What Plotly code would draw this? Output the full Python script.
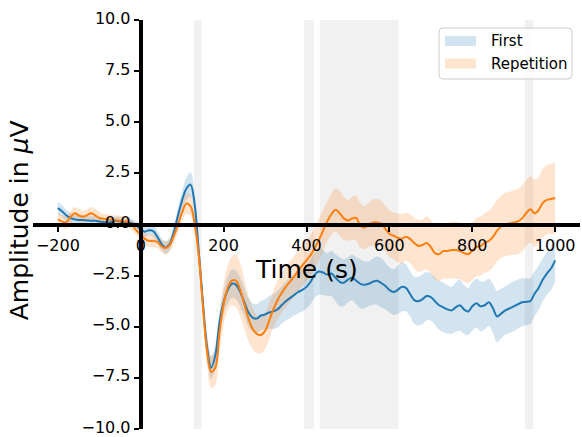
import plotly.graph_objects as go

# Time axis (ms) and grand-average ERP amplitudes (µV)
time_ms = list(range(-200, 1001, 10))

first_mean = [
    0.80, 0.65, 0.45, 0.32, 0.25, 0.22, 0.22, 0.20, 0.18, 0.18,
    0.15, 0.12, 0.10, 0.12, 0.18, 0.15, 0.08, 0.10, 0.05, -0.05,
    -0.25, -0.35, -0.28, -0.32, -0.60, -0.95, -1.12, -0.95, -0.35, 0.45,
    1.20, 1.75, 1.95, 1.00, -1.30, -3.80, -6.00, -7.00, -6.40, -4.80,
    -3.80, -3.20, -2.90, -2.95, -3.30, -3.80, -4.30, -4.55, -4.60, -4.45,
    -4.40, -4.30, -4.25, -4.15, -3.95, -3.75, -3.60, -3.45, -3.30, -3.20,
    -3.05, -2.80, -2.45, -2.30, -2.35, -2.45, -2.40, -2.60, -2.80, -2.85,
    -2.70, -2.60, -2.75, -2.90, -2.95, -2.90, -2.80, -2.75, -2.85, -3.00,
    -3.20, -3.30, -3.20, -3.05, -3.10, -3.40, -3.70, -3.75, -3.65, -3.50,
    -3.55, -3.75, -3.95, -4.05, -4.15, -4.20, -4.05, -3.95, -4.15, -4.25,
    -4.00, -3.85, -4.00, -3.95, -3.80, -4.10, -4.50, -4.35, -4.20, -4.10,
    -4.00, -3.90, -3.80, -3.78, -3.75, -3.40, -3.10, -2.70, -2.40, -2.15,
    -1.75,
]
first_sem = [
    0.30, 0.30, 0.28, 0.25, 0.22, 0.22, 0.22, 0.22, 0.22, 0.22,
    0.22, 0.20, 0.20, 0.20, 0.20, 0.20, 0.20, 0.20, 0.20, 0.20,
    0.22, 0.25, 0.25, 0.28, 0.30, 0.30, 0.30, 0.30, 0.30, 0.35,
    0.45, 0.55, 0.60, 0.55, 0.50, 0.50, 0.55, 0.55, 0.55, 0.55,
    0.60, 0.65, 0.70, 0.70, 0.70, 0.70, 0.70, 0.70, 0.70, 0.72,
    0.75, 0.80, 0.85, 0.90, 0.90, 0.95, 1.00, 1.00, 1.05, 1.05,
    1.05, 1.10, 1.12, 1.15, 1.10, 1.05, 1.10, 1.15, 1.20, 1.15,
    1.10, 1.12, 1.15, 1.20, 1.15, 1.10, 1.12, 1.18, 1.20, 1.15,
    1.10, 1.12, 1.18, 1.20, 1.15, 1.10, 1.15, 1.20, 1.22, 1.18,
    1.15, 1.15, 1.20, 1.22, 1.18, 1.15, 1.20, 1.25, 1.20, 1.15,
    1.18, 1.20, 1.22, 1.18, 1.15, 1.20, 1.25, 1.22, 1.18, 1.20,
    1.22, 1.20, 1.18, 1.15, 1.12, 1.10, 1.08, 1.05, 1.05, 1.05,
    1.08,
]

repetition_mean = [
    0.25, 0.15, 0.10, 0.35, 0.55, 0.45, 0.38, 0.45, 0.55, 0.45,
    0.32, 0.28, 0.25, 0.22, 0.20, 0.18, 0.15, 0.12, -0.05, -0.30,
    -0.50, -0.70, -0.80, -0.80, -0.85, -1.05, -1.15, -1.00, -0.55, 0.00,
    0.60, 1.02, 0.90, 0.05, -1.50, -4.00, -6.20, -7.20, -7.00, -5.30,
    -3.90, -3.10, -2.75, -2.75, -3.20, -3.90, -4.60, -5.10, -5.35, -5.40,
    -5.20, -4.70, -4.15, -3.70, -3.35, -3.05, -2.80, -2.55, -2.25, -2.00,
    -1.75, -1.50, -1.15, -0.75, -0.30, 0.15, 0.50, 0.72, 0.55, 0.30,
    0.20, 0.30, 0.32, -0.05, -0.15, 0.00, 0.10, 0.10, 0.05, -0.20,
    -0.45, -0.55, -0.65, -0.70, -0.60, -0.70, -0.90, -1.05, -1.00, -0.90,
    -1.10, -1.40, -1.45, -1.30, -1.30, -1.25, -1.25, -1.30, -1.40, -1.45,
    -1.30, -1.10, -1.05, -0.90, -0.80, -0.60, -0.30, -0.10, 0.00, 0.05,
    0.10, 0.15, 0.30, 0.55, 0.75, 0.55, 0.70, 1.05, 1.20, 1.25,
    1.30,
]
repetition_sem = [
    0.30, 0.30, 0.30, 0.30, 0.30, 0.30, 0.30, 0.30, 0.30, 0.30,
    0.30, 0.25, 0.25, 0.25, 0.25, 0.25, 0.25, 0.25, 0.25, 0.25,
    0.28, 0.30, 0.30, 0.30, 0.30, 0.30, 0.32, 0.32, 0.35, 0.40,
    0.45, 0.50, 0.50, 0.50, 0.55, 0.60, 0.70, 0.80, 0.85, 0.90,
    1.00, 1.10, 1.20, 1.30, 1.30, 1.20, 1.10, 1.00, 0.95, 0.90,
    0.90, 0.90, 0.90, 0.95, 0.95, 1.00, 1.00, 1.00, 1.00, 1.00,
    1.00, 1.00, 1.02, 1.05, 1.00, 0.98, 1.00, 1.05, 1.10, 1.05,
    1.00, 1.05, 1.10, 1.10, 1.05, 1.08, 1.12, 1.15, 1.10, 1.12,
    1.15, 1.15, 1.20, 1.22, 1.18, 1.20, 1.25, 1.28, 1.25, 1.30,
    1.32, 1.30, 1.32, 1.35, 1.35, 1.38, 1.40, 1.38, 1.40, 1.42,
    1.40, 1.42, 1.45, 1.45, 1.48, 1.50, 1.50, 1.52, 1.55, 1.55,
    1.58, 1.60, 1.62, 1.60, 1.62, 1.65, 1.62, 1.68, 1.70, 1.72,
    1.75,
]

# Time windows where the two conditions differ (ms)
sig_windows = [(128, 147), (394, 418), (432, 622), (927, 947)]

x_ticks = [-200, 0, 200, 400, 600, 800, 1000]
y_ticks = [-10.0, -7.5, -5.0, -2.5, 0.0, 2.5, 5.0, 7.5, 10.0]

condition_names = ["First", "Repetition"]


def fmt(v, dec):
    s = f"{v:.{dec}f}"
    return s.replace("-", "\u2212")


BLUE = "#1f77b4"
ORANGE = "#ff7f0e"
FONT = "DejaVu Sans"

W, H = 582, 437
MARGIN = dict(l=33, r=2, t=20, b=8)
PLOT_W = W - MARGIN["l"] - MARGIN["r"]
PLOT_H = H - MARGIN["t"] - MARGIN["b"]


def px_x(p):
    """Pixel column -> paper x."""
    return (p - MARGIN["l"]) / PLOT_W


def px_y(p):
    """Pixel row (from top) -> paper y."""
    return (H - MARGIN["b"] - p) / PLOT_H


fig = go.Figure()

conditions = [
    (condition_names[0], first_mean, first_sem, BLUE, "rgba(31,119,180,0.2)"),
    (condition_names[1], repetition_mean, repetition_sem, ORANGE, "rgba(255,127,14,0.2)"),
]

# Shaded SEM bands
for name, mean, sem, color, fill in conditions:
    upper = [m + s for m, s in zip(mean, sem)]
    lower = [m - s for m, s in zip(mean, sem)]
    fig.add_trace(go.Scatter(
        x=time_ms, y=upper, mode="lines", line=dict(width=0, shape="spline"),
        showlegend=False, hoverinfo="skip",
    ))
    fig.add_trace(go.Scatter(
        x=time_ms, y=lower, mode="lines", line=dict(width=0, shape="spline"),
        fill="tonexty", fillcolor=fill, name=name, showlegend=False,
    ))

# Mean waveforms
for name, mean, sem, color, fill in conditions:
    fig.add_trace(go.Scatter(
        x=time_ms, y=mean, mode="lines", name=name,
        line=dict(color=color, width=2, shape="spline"),
        showlegend=False,
    ))

for t0, t1 in sig_windows:
    fig.add_shape(
        type="rect", xref="x", yref="y", x0=t0, x1=t1, y0=-10, y1=10,
        fillcolor="rgba(211,211,211,0.32)", line=dict(width=0), layer="below",
    )

# Legend box (rounded frame with filled patches, matplotlib style)
bx0, bx1, by0, by1, r = 439, 572, 28, 79, 4
frame = (
    f"M {px_x(bx0 + r)},{px_y(by0)} L {px_x(bx1 - r)},{px_y(by0)} "
    f"Q {px_x(bx1)},{px_y(by0)} {px_x(bx1)},{px_y(by0 + r)} "
    f"L {px_x(bx1)},{px_y(by1 - r)} Q {px_x(bx1)},{px_y(by1)} {px_x(bx1 - r)},{px_y(by1)} "
    f"L {px_x(bx0 + r)},{px_y(by1)} Q {px_x(bx0)},{px_y(by1)} {px_x(bx0)},{px_y(by1 - r)} "
    f"L {px_x(bx0)},{px_y(by0 + r)} Q {px_x(bx0)},{px_y(by0)} {px_x(bx0 + r)},{px_y(by0)} Z"
)
fig.add_shape(type="path", xref="paper", yref="paper", path=frame,
              fillcolor="rgba(255,255,255,0.8)", line=dict(color="#cccccc", width=1),
              layer="above")

legend_annotations = []
row_centers = [41, 63.5]
for (name, mean, sem, color, fill), cy in zip(conditions, row_centers):
    fig.add_shape(type="rect", xref="paper", yref="paper",
                  x0=px_x(445), x1=px_x(476), y0=px_y(cy - 5), y1=px_y(cy + 5),
                  fillcolor=fill, line=dict(width=0), layer="above")
    legend_annotations.append(dict(
        text=name, xref="paper", yref="paper", x=px_x(489), y=px_y(cy),
        xanchor="left", yanchor="middle", showarrow=False,
        font=dict(family=FONT, size=15, color="black"),
    ))

x_range = [-260, 1060]
y_range = [-10, 10]

fig.update_layout(
    width=W, height=H,
    margin=dict(MARGIN, autoexpand=False),
    paper_bgcolor="white", plot_bgcolor="white",
    font=dict(family=FONT, size=16, color="black"),
    showlegend=False,
    xaxis=dict(
        range=x_range, anchor="free",
        position=(0 - y_range[0]) / (y_range[1] - y_range[0]),
        showline=True, linecolor="black", linewidth=4,
        ticks="outside", ticklen=5, tickwidth=1.5, tickcolor="black",
        tickvals=x_ticks, ticktext=[fmt(v, 0) for v in x_ticks],
        tickfont=dict(family=FONT, size=16),
        ticklabeloverflow="allow", automargin=False,
        showgrid=False, zeroline=False,
    ),
    yaxis=dict(
        range=y_range, anchor="free",
        position=(0 - x_range[0]) / (x_range[1] - x_range[0]),
        showline=True, linecolor="black", linewidth=4,
        ticks="outside", ticklen=5, tickwidth=1.5, tickcolor="black",
        tickvals=y_ticks, ticktext=[fmt(v, 1) for v in y_ticks],
        tickfont=dict(family=FONT, size=16),
        ticklabeloverflow="allow", automargin=False, ticklabelshift=-2,
        showgrid=False, zeroline=False,
    ),
    annotations=[
        dict(text="Time (s)", xref="paper", yref="paper", x=0.5, y=0.39,
             xanchor="center", yanchor="middle", showarrow=False,
             font=dict(family=FONT, size=25)),
        dict(text="Amplitude in <i>\u03bc</i>V", xref="paper", yref="paper",
             x=-0.024, y=0.51, xanchor="center", yanchor="middle",
             textangle=-90, showarrow=False,
             font=dict(family=FONT, size=25)),
    ] + legend_annotations,
)

fig.write_html("out.html")
